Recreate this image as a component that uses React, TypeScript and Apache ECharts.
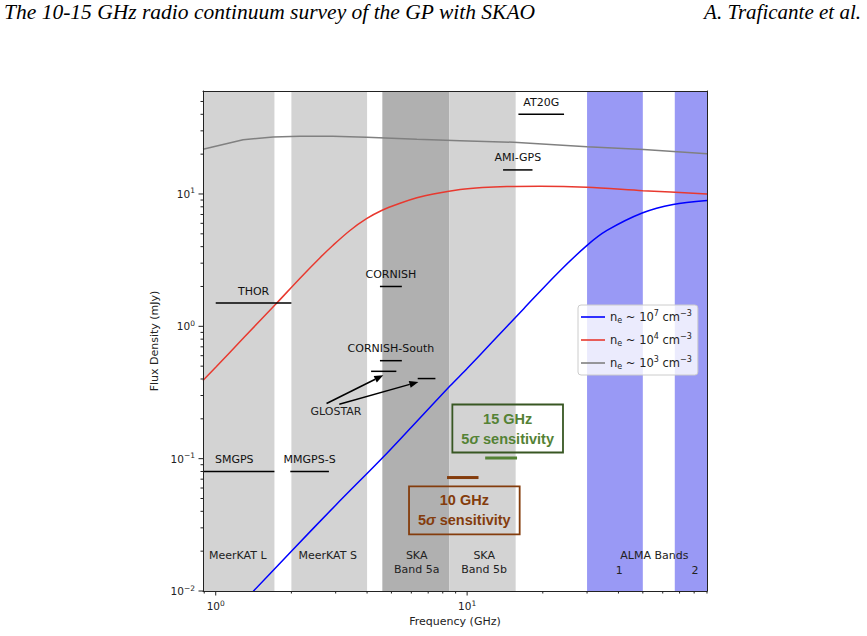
import React, { useEffect, useRef } from 'react';
import * as echarts from 'echarts';

const X_MIN = 0.89;
const X_MAX = 90;
const Y_MIN = 0.01;
const Y_MAX = 60;
const FONT = 'DejaVu Sans';

// emission curves (GHz, mJy)
const freqBlue = [1.4, 2.0, 3.0, 4.64, 6.0, 8.56, 10, 12.5, 16.8, 22.8, 30, 36, 50, 66, 90];
const fluxBlue = [0.0098, 0.02, 0.0445, 0.103, 0.173, 0.355, 0.48, 0.75, 1.36, 2.5, 4.09, 5.3, 7.21, 8.33, 8.93];
const freqRed = [0.89, 1.0, 1.3, 1.75, 2.16, 2.6, 2.93, 3.42, 3.98, 4.57, 5.41, 6.31, 7.34, 9.38, 11.5, 14.4, 19.5, 30, 50, 90];
const fluxRed = [0.39, 0.49, 0.83, 1.5, 2.3, 3.3, 4.1, 5.3, 6.5, 7.5, 8.5, 9.35, 10.0, 10.8, 11.2, 11.4, 11.45, 11.25, 10.6, 10.0];
const freqGray = [0.89, 1.285, 1.692, 2.16, 2.92, 3.98, 6.31, 9.38, 15.3, 30, 50.4, 90];
const fluxGray = [21.8, 25.7, 27.0, 27.3, 27.3, 26.8, 25.9, 25.3, 24.6, 22.7, 21.7, 20.1];

// frequency bands
const bandLow = [0.856, 2.0, 4.6, 8.5, 30, 67];
const bandHigh = [1.712, 4.0, 8.5, 15.6, 50, 116];
const bandColors = ['#d3d3d3', '#d3d3d3', '#b0b0b0', '#d3d3d3', '#9999f5', '#9999f5'];

// band labels
const bandLabelText = ['MeerKAT L', 'MeerKAT S', 'SKA\nBand 5a', 'SKA\nBand 5b', 'ALMA Bands', '1', '2', 'GLOSTAR'];
const bandLabelFreq = [1.224, 2.79, 6.30, 11.69, 55.6, 40.3, 80.7, 3.01];
const bandLabelFlux = [0.0184, 0.0184, 0.0163, 0.0163, 0.0184, 0.0144, 0.0144, 0.2256];

// surveys
const surveyNames = ['AT20G', 'AMI-GPS', 'THOR', 'CORNISH', 'CORNISH-South', 'SMGPS', 'MMGPS-S', '', ''];
const surveyFreqLow = [16, 13.9, 1.0, 4.5, 4.5, 0.82, 1.98, 4.15, 6.36];
const surveyFreqHigh = [24.3, 18.2, 2.0, 5.5, 5.5, 1.712, 2.82, 5.23, 7.48];
const surveyFlux = [40, 15.2, 1.5, 2.0, 0.55, 0.08, 0.08, 0.457, 0.403];

// GLOSTAR arrows
const arrowFromFreq = [2.76, 3.10];
const arrowFromFlux = [0.261, 0.258];
const arrowToFreq = [4.64, 6.40];
const arrowToFlux = [0.427, 0.380];

// sensitivities
const sensFreqLow = [8.32, 11.8];
const sensFreqHigh = [11.1, 15.8];
const sensFlux = [0.072, 0.101];
const sensLabelFreq = [9.75, 14.5];
const sensLabelFlux = [0.0406, 0.169];
const sensTitles = ['10 GHz', '15 GHz'];
const sensColors = ['#843c0c', '#548235'];
const sensBorder = ['#843c0c', '#385723'];

// ticks
const xMajorTicks = [1, 10];
const xMinorTicks = [0.9, 2, 3, 4, 5, 6, 7, 8, 9, 20, 30, 40, 50, 60, 70, 80, 90];
const yMajorTicks = [0.01, 0.1, 1, 10];
const yMinorTicks = [0.02, 0.03, 0.04, 0.05, 0.06, 0.07, 0.08, 0.09, 0.2, 0.3, 0.4, 0.5, 0.6, 0.7, 0.8, 0.9, 2, 3, 4, 5, 6, 7, 8, 9, 20, 30, 40, 50];

const legendLabels: Record<string, string> = {
  ne7: '{t|n}{sub|e}{t| ~ 10}{sup|7}{t| cm}{sup|−3}',
  ne4: '{t|n}{sub|e}{t| ~ 10}{sup|4}{t| cm}{sup|−3}',
  ne3: '{t|n}{sub|e}{t| ~ 10}{sup|3}{t| cm}{sup|−3}',
};

const powLabel = (v: number) => {
  const e = Math.log10(v);
  const r = Math.round(e);
  if (Math.abs(e - r) > 1e-6) return '';
  return '{b|10}{s|' + (r < 0 ? '−' + -r : String(r)) + '}';
};

const tickRich = {
  b: { fontFamily: FONT, fontSize: 10.5, color: '#222', lineHeight: 14, verticalAlign: 'middle' },
  s: { fontFamily: FONT, fontSize: 7.5, color: '#222', lineHeight: 8, verticalAlign: 'top' },
};

function buildOption() {
  const axisLineStyle = { show: true, onZero: false, lineStyle: { color: '#222', width: 1 } };
  const hiddenAxis = {
    axisTick: { show: false },
    axisLabel: { show: false },
    splitLine: { show: false },
    minorTick: { show: false },
  };
  const txt = (s: any) => ({ ...s, textAlign: s.align, textVerticalAlign: s.verticalAlign });

  return {
    animation: false,
    backgroundColor: '#fff',
    grid: { left: 203, right: 160, top: 91, bottom: 45, containLabel: false },
    graphic: [
      {
        type: 'text', left: 4, top: 1,
        style: { text: 'The 10-15 GHz radio continuum survey of the GP with SKAO', font: 'italic 21.5px "Liberation Serif"', fill: '#000' },
      },
      {
        type: 'text', right: 6, top: 1,
        style: { text: 'A. Traficante et al.', font: 'italic 21px "Liberation Serif"', fill: '#000' },
      },
    ],
    legend: {
      data: ['ne7', 'ne4', 'ne3'],
      orient: 'vertical',
      left: 578,
      top: 305,
      backgroundColor: 'rgba(255,255,255,0.8)',
      borderColor: '#cccccc',
      borderWidth: 1,
      borderRadius: 3,
      padding: [4, 6, 4, 3],
      itemGap: 7,
      itemWidth: 24,
      itemHeight: 1.6,
      icon: 'rect',
      itemTextGap: 10,
      formatter: (name: string) => legendLabels[name],
      textStyle: {
        color: '#222',
        rich: {
          t: { fontFamily: FONT, fontSize: 11.5, color: '#222', lineHeight: 16, verticalAlign: 'middle' },
          sup: { fontFamily: FONT, fontSize: 8, color: '#222', lineHeight: 8, verticalAlign: 'top' },
          sub: { fontFamily: FONT, fontSize: 8, color: '#222', lineHeight: 8, verticalAlign: 'bottom' },
        },
      },
    },
    xAxis: [
      {
        type: 'log', logBase: 10, min: X_MIN, max: X_MAX, position: 'bottom', z: 10,
        axisLine: axisLineStyle,
        axisTick: { show: false }, minorTick: { show: false }, splitLine: { show: false },
        axisLabel: { formatter: powLabel, margin: 8, rich: tickRich },
        name: 'Frequency (GHz)', nameLocation: 'middle', nameGap: 25,
        nameTextStyle: { fontFamily: FONT, fontSize: 11, color: '#222' },
      },
      { type: 'log', logBase: 10, min: X_MIN, max: X_MAX, position: 'top', z: 10, axisLine: axisLineStyle, ...hiddenAxis },
    ],
    yAxis: [
      {
        type: 'log', logBase: 10, min: Y_MIN, max: Y_MAX, position: 'left', z: 10,
        axisLine: axisLineStyle,
        axisTick: { show: false }, minorTick: { show: false }, splitLine: { show: false },
        axisLabel: { formatter: powLabel, margin: 8, rich: tickRich },
        name: 'Flux Density (mJy)', nameLocation: 'middle', nameGap: 40,
        nameTextStyle: { fontFamily: FONT, fontSize: 11, color: '#222' },
      },
      { type: 'log', logBase: 10, min: Y_MIN, max: Y_MAX, position: 'right', z: 10, axisLine: axisLineStyle, ...hiddenAxis },
    ],
    series: [
      // bands
      {
        type: 'custom', silent: true, z: 1,
        encode: { x: [0, 1], y: 2 },
        data: bandLow.map((lo, i) => [lo, bandHigh[i], Y_MIN, i]),
        renderItem: (params: any, api: any) => {
          const cs = params.coordSys;
          const p1 = api.coord([api.value(0), Y_MIN]);
          const p2 = api.coord([api.value(1), Y_MIN]);
          const x1 = Math.max(p1[0], cs.x);
          const x2 = Math.min(p2[0], cs.x + cs.width);
          return {
            type: 'rect',
            shape: { x: x1, y: cs.y, width: Math.max(0, x2 - x1), height: cs.height },
            style: { fill: bandColors[api.value(3)] },
          };
        },
      },
      // curves
      {
        type: 'line', name: 'ne7', z: 3, symbol: 'none', showSymbol: false, smooth: 0.3, clip: true,
        data: freqBlue.map((f, i) => [f, fluxBlue[i]]),
        lineStyle: { color: '#0000ff', width: 1.5 }, itemStyle: { color: '#0000ff' },
      },
      {
        type: 'line', name: 'ne4', z: 3, symbol: 'none', showSymbol: false, smooth: 0.3, clip: true,
        data: freqRed.map((f, i) => [f, fluxRed[i]]),
        lineStyle: { color: '#e8392f', width: 1.5 }, itemStyle: { color: '#e8392f' },
      },
      {
        type: 'line', name: 'ne3', z: 3, symbol: 'none', showSymbol: false, smooth: false, clip: true,
        data: freqGray.map((f, i) => [f, fluxGray[i]]),
        lineStyle: { color: '#808080', width: 1.5 }, itemStyle: { color: '#808080' },
      },
      // surveys
      {
        type: 'custom', silent: true, z: 4,
        encode: { x: [0, 1], y: 2 },
        data: surveyFreqLow.map((lo, i) => [lo, surveyFreqHigh[i], surveyFlux[i], i]),
        renderItem: (params: any, api: any) => {
          const cs = params.coordSys;
          const i = api.value(3);
          const p1 = api.coord([api.value(0), api.value(2)]);
          const p2 = api.coord([api.value(1), api.value(2)]);
          const x1 = Math.max(p1[0], cs.x);
          const x2 = Math.min(p2[0], cs.x + cs.width);
          const children: any[] = [
            { type: 'line', shape: { x1, y1: p1[1], x2, y2: p1[1] }, style: { stroke: '#000', lineWidth: 1.5 } },
          ];
          if (surveyNames[i]) {
            children.push({
              type: 'text',
              style: txt({
                text: surveyNames[i], x: (p1[0] + p2[0]) / 2, y: p1[1] - 12,
                align: 'center', verticalAlign: 'middle', fontFamily: FONT, fontSize: 11, fill: '#111',
              }),
            });
          }
          return { type: 'group', children };
        },
      },
      // sensitivity lines and boxes
      {
        type: 'custom', silent: true, z: 4,
        encode: { x: [0, 1], y: 2 },
        data: sensFreqLow.map((lo, i) => [lo, sensFreqHigh[i], sensFlux[i], i]),
        renderItem: (params: any, api: any) => {
          const i = api.value(3);
          const p1 = api.coord([api.value(0), api.value(2)]);
          const p2 = api.coord([api.value(1), api.value(2)]);
          const pl = api.coord([sensLabelFreq[i], sensLabelFlux[i]]);
          const c = sensColors[i];
          return {
            type: 'group',
            children: [
              { type: 'line', shape: { x1: p1[0], y1: p1[1], x2: p2[0], y2: p2[1] }, style: { stroke: c, lineWidth: 3 } },
              {
                type: 'text',
                style: txt({
                  text: '{b|' + sensTitles[i] + '}\n{b|5}{i|σ}{b| sensitivity}',
                  x: pl[0], y: pl[1], align: 'center', verticalAlign: 'middle',
                  borderColor: sensBorder[i], borderWidth: 1.8, padding: [4, 9, 4, 9],
                  rich: {
                    b: { fontFamily: 'Liberation Sans', fontWeight: 'bold', fontSize: 14.5, fill: c, color: c, lineHeight: 20 },
                    i: { fontFamily: 'Liberation Sans', fontWeight: 'bold', fontStyle: 'italic', fontSize: 14.5, fill: c, color: c, lineHeight: 20 },
                  },
                }),
              },
            ],
          };
        },
      },
      // arrows
      {
        type: 'custom', silent: true, z: 4,
        encode: { x: [0, 2], y: [1, 3] },
        data: arrowFromFreq.map((f, i) => [f, arrowFromFlux[i], arrowToFreq[i], arrowToFlux[i]]),
        renderItem: (params: any, api: any) => {
          const a = api.coord([api.value(0), api.value(1)]);
          const b = api.coord([api.value(2), api.value(3)]);
          const dx = b[0] - a[0];
          const dy = b[1] - a[1];
          const L = Math.sqrt(dx * dx + dy * dy);
          const ux = dx / L;
          const uy = dy / L;
          const hl = 9;
          const hw = 3.5;
          const bx = b[0] - ux * hl;
          const by = b[1] - uy * hl;
          return {
            type: 'group',
            children: [
              { type: 'line', shape: { x1: a[0], y1: a[1], x2: bx, y2: by }, style: { stroke: '#000', lineWidth: 1.5 } },
              {
                type: 'polygon',
                shape: { points: [[b[0], b[1]], [bx - uy * hw, by + ux * hw], [bx + uy * hw, by - ux * hw]] },
                style: { fill: '#000' },
              },
            ],
          };
        },
      },
      // band labels & GLOSTAR label
      {
        type: 'custom', silent: true, z: 5,
        encode: { x: 0, y: 1 },
        data: bandLabelFreq.map((f, i) => [f, bandLabelFlux[i], i]),
        renderItem: (params: any, api: any) => {
          const p = api.coord([api.value(0), api.value(1)]);
          return {
            type: 'text',
            style: txt({
              text: bandLabelText[api.value(2)], x: p[0], y: p[1], align: 'center', verticalAlign: 'middle',
              fontFamily: FONT, fontSize: 11, fill: '#222', lineHeight: 14,
            }),
          };
        },
      },
      // x ticks
      {
        type: 'custom', silent: true, z: 10,
        encode: { x: 0, y: 1 },
        data: xMajorTicks.map((v) => [v, Y_MIN, 1]).concat(xMinorTicks.map((v) => [v, Y_MIN, 0])),
        renderItem: (params: any, api: any) => {
          const p = api.coord([api.value(0), api.value(1)]);
          const len = api.value(2) ? 4.5 : 2.5;
          return { type: 'line', shape: { x1: p[0], y1: p[1], x2: p[0], y2: p[1] + len }, style: { stroke: '#222', lineWidth: 1 } };
        },
      },
      // y ticks
      {
        type: 'custom', silent: true, z: 10,
        encode: { x: 0, y: 1 },
        data: yMajorTicks.map((v) => [X_MIN, v, 1]).concat(yMinorTicks.map((v) => [X_MIN, v, 0])),
        renderItem: (params: any, api: any) => {
          const p = api.coord([api.value(0), api.value(1)]);
          const len = api.value(2) ? 4.5 : 2.5;
          return { type: 'line', shape: { x1: p[0] - len, y1: p[1], x2: p[0], y2: p[1] }, style: { stroke: '#222', lineWidth: 1 } };
        },
      },
    ],
  };
}

export default function App() {
  const ref = useRef<HTMLDivElement>(null);
  useEffect(() => {
    document.body.style.margin = '0';
    const chart = echarts.init(ref.current as HTMLDivElement, null, { renderer: 'svg' });
    chart.setOption(buildOption() as any);
    return () => chart.dispose();
  }, []);
  return <div ref={ref} style={{ position: 'fixed', left: 0, top: 0, width: 867, height: 636 }} />;
}
